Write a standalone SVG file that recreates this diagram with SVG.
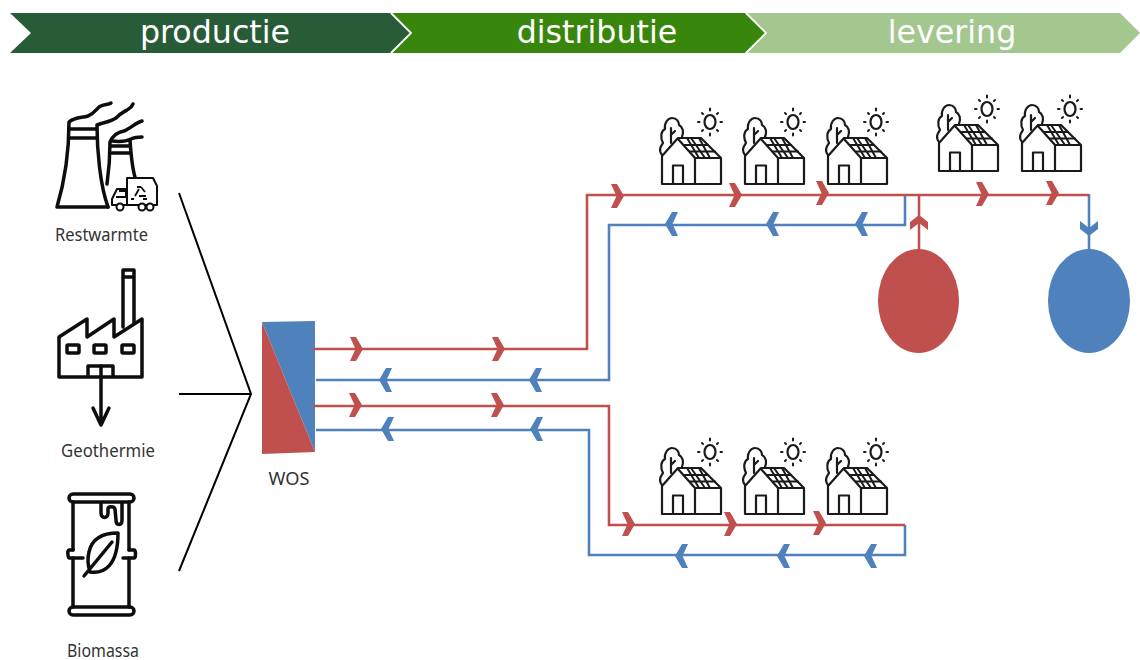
<svg xmlns="http://www.w3.org/2000/svg" xmlns:xlink="http://www.w3.org/1999/xlink" width="1140" height="660" viewBox="0 0 1140 660">
<style>
.hd{font-family:"DejaVu Sans",Verdana,sans-serif;font-size:31.700px;fill:#fff;text-anchor:middle}
.lb{font-family:"Noto Sans","Open Sans",sans-serif;font-size:18px;fill:#333;text-anchor:middle}
.ic{fill:none;stroke:#0d0d0d;stroke-width:3.500;stroke-linejoin:round;stroke-linecap:round}
.hs{fill:none;stroke:#1a1a1a;stroke-width:2.200;stroke-linejoin:round;stroke-linecap:round}
.red{fill:none;stroke:#C0504D;stroke-width:2.600}
.blue{fill:none;stroke:#4F81BD;stroke-width:2.600}
.src{fill:none;stroke:#000;stroke-width:2}
.rf{fill:#C0504D}
.bf{fill:#4F81BD}
</style>
<defs>
<polygon id="chev" points="-7,-12 -1,-12 6,0 -1,12 -7,12 -1.500,0"/>
<polygon id="chev-v" points="-9,-4 0,-11 9,-4 9,4 0,-3 -9,4"/>
<g id="house" class="hs">
<path d="M662,156V184H721V158L701,138H678L662,156M678,139L695,158V184M695,158H721"/>
<path d="M673,184V165.500H683V184"/>
<path d="M662,155C658,150 661,146 663,143C660,137 661,131 665,129C664,123 668,118 672,118C677,118 679,122 679,125C683,127 684,132 682,137M671,128V143M671,135L675,131"/>
<path d="M684,145H708M690,151.500H715M687,138L699,158M699,138L710,158M691,138L705,158" stroke-width="2"/>
<ellipse cx="710" cy="122" rx="5.500" ry="7"/>
<path d="M710,108.500V110.500M710,133.500V135.500M698,122H699.500M720.500,122H722M702,113L703,114M718,113L717,114M702,131L703,130M718,131L717,130" stroke-width="2"/>
</g>
</defs>
<rect width="1140" height="660" fill="#fff"/>
<g id="header">
<g id="step-levering"><polygon points="746,13 1120,13 1140,33 1120,53 746,53 766,33" fill="#A3C78F"/><text class="hd" x="952" y="43">levering</text></g>
<g id="step-distributie"><polygon points="390,13 745,13 766,33 745,53 390,53 411,33" fill="#38860B"/><text class="hd" x="597" y="43">distributie</text></g>
<g id="step-productie"><polygon points="10,13 390,13 411,33 390,53 10,53 31,33" fill="#285B37"/><text class="hd" x="215" y="43">productie</text></g>
<path d="M391,13L411,33L391,53M746,13L766,33L746,53" fill="none" stroke="#fff" stroke-width="1.800"/>
</g>
<g id="restwarmte">
<g class="ic">
<path d="M57,207H108M57,207C65,180 69,150 69,122C75,117 82,118 88,116C96,113 97,107 101,106C105,104 108,105 111,103"/>
<path d="M69,129H96M69,138H97M97,125C97,150 100,185 108,207M97,125C105,122 110,122 116,118C122,112 124,112 127,110C130,108 132,107 133,104"/>
<path d="M110,142C110,155 109,170 107,184M110,142C113,135 118,132 124,131C130,129 135,123 142,121M112,141C120,142 127,141 131,139C135,137 138,137 142,137M112,146H130M112,153H130M130,140C131,155 132,167 135,177"/>
</g>
<g id="truck" fill="#fff" stroke="#0d0d0d" stroke-width="2" stroke-linejoin="round">
<path d="M127,178H153L157,186V205H112V199L117,189H127Z"/>
<path d="M127,178V205M119,191H126V197H116" fill="none"/>
<circle cx="120" cy="207" r="3.500"/><circle cx="142" cy="207" r="3.500"/><circle cx="150" cy="207" r="3.500"/>
<path d="M135,196L139,189M141,187L145,192M146,196H139M134,199H131M137,187L141,187M143,199L147,199" fill="none" stroke-width="1.800"/>
</g>
<text class="lb" x="101.500" y="241" textLength="93" lengthAdjust="spacingAndGlyphs">Restwarmte</text>
</g>
<g id="geothermie">
<path class="ic" d="M59,377V337L87,319V337L114,319V337L142,319V377ZM123,327V270H134V323M123,277H134M88,377V366H113V377"/>
<rect class="ic" x="67" y="345" width="12" height="8" rx="1"/><rect class="ic" x="94" y="345" width="12" height="8" rx="1"/><rect class="ic" x="122" y="345" width="12" height="8" rx="1"/>
<path class="ic" d="M101,366V425M93,408L101,425L109,408"/>
<text class="lb" x="108" y="457" textLength="94" lengthAdjust="spacingAndGlyphs">Geothermie</text>
</g>
<g id="biomassa">
<g class="ic">
<rect x="69" y="494" width="65" height="8" rx="4"/><rect x="69" y="607" width="65" height="8" rx="4"/>
<path d="M73,502V550M73,558V607M129,502V550M129,558V607"/>
<path d="M73,550H69C67,550 68,558 69,558H83M129,550H134C136,550 136,558 134,558H123"/>
<path d="M101,503V513C101,519 108,519 108,513V509C108,506 114,506 115,509L116,520C116,526 122,526 122,520V503"/>
<path d="M118,533C104,533 92,538 89,552C87,560 88,566 90,572C104,574 118,566 118,533ZM84,576L112,542"/>
</g>
<text class="lb" x="103" y="657" textLength="72" lengthAdjust="spacingAndGlyphs">Biomassa</text>
</g>
<g id="wos">
<polygon class="bf" points="262,322 315,321 315,452"/>
<polygon class="rf" points="262,322 315,452 262,454"/>
<text class="lb" x="289" y="485" textLength="41" lengthAdjust="spacingAndGlyphs">WOS</text>
</g>
<g id="houses-top">
<use xlink:href="#house" href="#house"/>
<use xlink:href="#house" href="#house" x="83"/>
<use xlink:href="#house" href="#house" x="166"/>
<use xlink:href="#house" href="#house" x="277" y="-13"/>
<use xlink:href="#house" href="#house" x="360" y="-13"/>
</g>
<g id="houses-bottom">
<use xlink:href="#house" href="#house" y="330"/>
<use xlink:href="#house" href="#house" x="83" y="330"/>
<use xlink:href="#house" href="#house" x="166" y="330"/>
</g>
<ellipse id="tank-hot" class="rf" cx="918.500" cy="301" rx="40.500" ry="52"/>
<ellipse id="tank-cold" class="bf" cx="1089" cy="301" rx="41" ry="52"/>
<g id="connectors">
<path class="src" d="M179,193L251,394L179,571M179,394H251"/>
<path class="blue" d="M316,380H609V225H905V194M316,430H589V555H905V525M1089,194V250"/>
<path class="red" d="M313,349H587V195H1089M313,406H609V525H905M919,195V250"/>
<g class="rf">
<use xlink:href="#chev" href="#chev" x="357" y="349"/><use xlink:href="#chev" href="#chev" x="499" y="349"/>
<use xlink:href="#chev" href="#chev" x="356" y="405"/><use xlink:href="#chev" href="#chev" x="498" y="405"/>
<use xlink:href="#chev" href="#chev" x="618" y="196"/><use xlink:href="#chev" href="#chev" x="736" y="195"/><use xlink:href="#chev" href="#chev" x="823" y="193"/>
<use xlink:href="#chev" href="#chev" x="983" y="194"/><use xlink:href="#chev" href="#chev" x="1053" y="193"/>
<use xlink:href="#chev" href="#chev" x="629" y="524"/><use xlink:href="#chev" href="#chev" x="731" y="524"/><use xlink:href="#chev" href="#chev" x="820" y="523"/>
<use xlink:href="#chev-v" href="#chev-v" x="919" y="226"/>
</g>
<g class="bf">
<use xlink:href="#chev" href="#chev" transform="translate(385,380) rotate(180)"/><use xlink:href="#chev" href="#chev" transform="translate(535,380) rotate(180)"/>
<use xlink:href="#chev" href="#chev" transform="translate(387,429) rotate(180)"/><use xlink:href="#chev" href="#chev" transform="translate(536,429) rotate(180)"/>
<use xlink:href="#chev" href="#chev" transform="translate(671,224) rotate(180)"/><use xlink:href="#chev" href="#chev" transform="translate(772,224) rotate(180)"/><use xlink:href="#chev" href="#chev" transform="translate(861,224) rotate(180)"/>
<use xlink:href="#chev" href="#chev" transform="translate(681,556) rotate(180)"/><use xlink:href="#chev" href="#chev" transform="translate(783,556) rotate(180)"/><use xlink:href="#chev" href="#chev" transform="translate(870,556) rotate(180)"/>
<use xlink:href="#chev-v" href="#chev-v" transform="translate(1089,225) rotate(180)"/>
</g>
</g>
</svg>
